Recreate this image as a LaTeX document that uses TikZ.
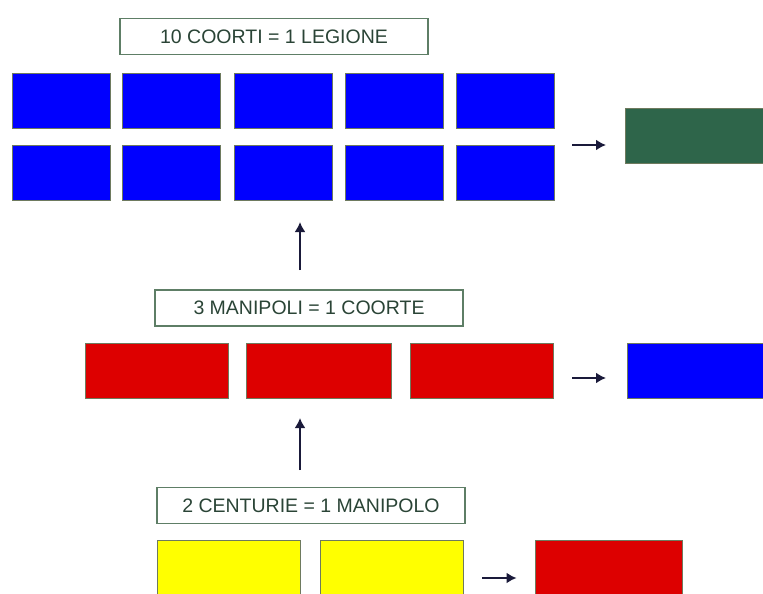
\documentclass[tikz,border=0pt]{standalone}
\usepackage{fontspec}
\setmainfont{Liberation Sans}
\usetikzlibrary{arrows.meta}
\definecolor{rblue}{HTML}{0000FF}
\definecolor{rred}{HTML}{DD0000}
\definecolor{ryellow}{HTML}{FFFF00}
\definecolor{rgreen}{HTML}{2E654A}
\definecolor{rborder}{HTML}{6E7A5E}
\definecolor{lborder}{HTML}{5E7E66}
\definecolor{rtext}{HTML}{2A4436}
\definecolor{rarrow}{HTML}{1A1A3A}
\begin{document}
\begin{tikzpicture}[x=1pt,y=-1pt,
  unit/.style={draw=rborder,line width=0.9pt,inner sep=0pt,minimum height=55pt},
  lbl/.style={draw=lborder,line width=1.6pt,fill=white,inner sep=0pt,minimum height=36pt,
     font=\fontsize{19.5}{19.5}\selectfont,text=rtext},
  arr/.style={draw=rarrow,line width=2.2pt,-{Latex[length=10pt,width=11pt]}}]
\useasboundingbox (0,0) rectangle (763,594);
\clip (0,0) rectangle (763,594);
\fill[white] (0,0) rectangle (763,594);
% top
\node[lbl,minimum width=308pt] (ltop) at (274,36.5) {10 COORTI = 1 LEGIONE};
\foreach \i/\x in {1/61,2/171,3/283,4/394,5/505}{
  \node[unit,fill=rblue,minimum width=98pt] (a\i) at (\x,100.5) {};
  \node[unit,fill=rblue,minimum width=98pt] (b\i) at (\x,172.5) {};
}
\node[unit,fill=rgreen,minimum width=160pt,anchor=west] (leg) at (625,135.5) {};
\draw[arr,shorten <=18pt,shorten >=19pt] (b5.east |- 0,145) -- (leg.west |- 0,145);
% middle
\node[lbl,minimum width=308pt] (lmid) at (309,308) {3 MANIPOLI = 1 COORTE};
\node[unit,fill=rred,minimum width=143pt] (m1) at (156.5,370.5) {};
\node[unit,fill=rred,minimum width=145pt] (m2) at (318.5,370.5) {};
\node[unit,fill=rred,minimum width=143pt] (m3) at (481.5,370.5) {};
\node[unit,fill=rblue,minimum width=160pt,anchor=west] (coh) at (627,370.5) {};
\draw[arr,shorten <=19pt,shorten >=21pt] (m3.east |- 0,378) -- (coh.west |- 0,378);
\coordinate (v1s) at (300,270);
\coordinate (v1e) at (300,222);
\draw[arr] (v1s) -- (v1e);
% bottom
\node[lbl,minimum width=308pt] (lbot) at (311,505.5) {2 CENTURIE = 1 MANIPOLO};
\node[unit,fill=ryellow,minimum width=143pt,anchor=north] (c1) at (228.5,540) {};
\node[unit,fill=ryellow,minimum width=143pt,anchor=north] (c2) at (391.5,540) {};
\node[unit,fill=rred,minimum width=147pt,anchor=north] (man) at (608.5,540) {};
\draw[arr,shorten <=19pt,shorten >=18pt] (c2.east |- 0,578) -- (man.west |- 0,578);
\coordinate (v2s) at (300,470);
\coordinate (v2e) at (300,418);
\draw[arr] (v2s) -- (v2e);
\end{tikzpicture}
\end{document}
